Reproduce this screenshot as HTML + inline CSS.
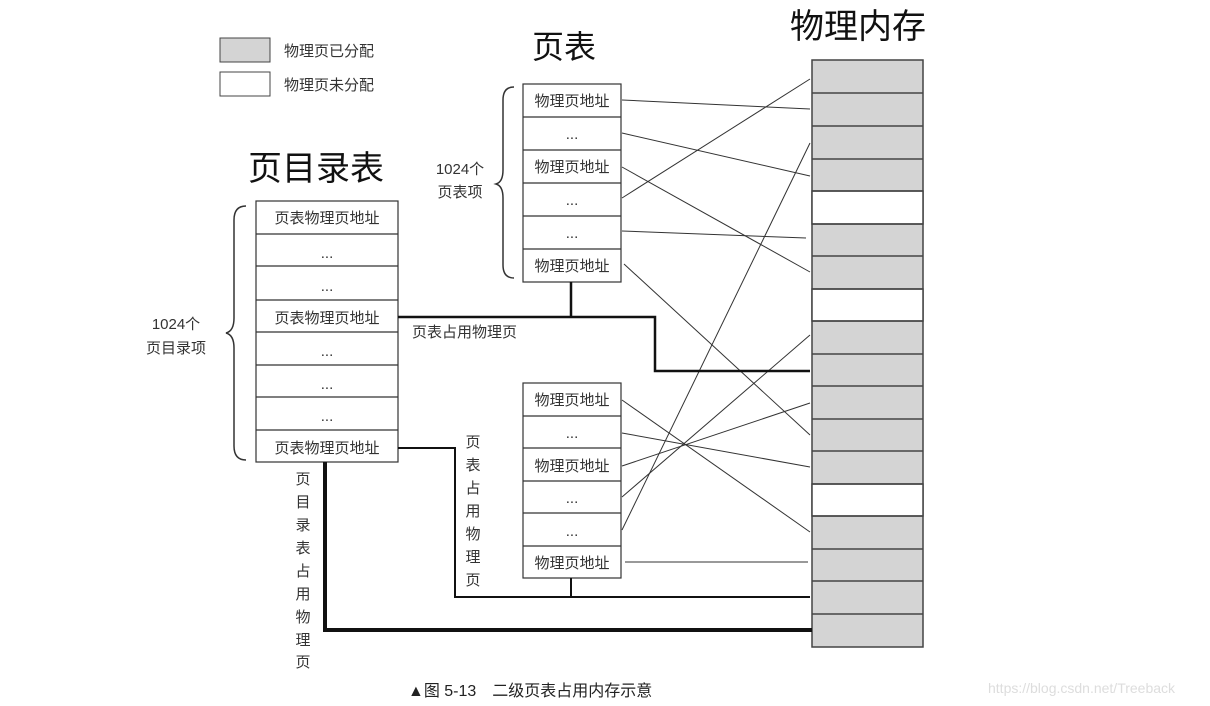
<!DOCTYPE html>
<html><head><meta charset="utf-8"><style>
html,body{margin:0;padding:0;background:#fff;width:1210px;height:706px;overflow:hidden}
svg text{font-family:"Liberation Sans","Noto Sans CJK SC",sans-serif;fill:#333}
</style></head><body>
<svg width="1210" height="706" xmlns="http://www.w3.org/2000/svg">
<!-- legend -->
<rect x="220" y="38" width="50" height="24" fill="#d4d4d4" stroke="#444"/>
<rect x="220" y="72" width="50" height="24" fill="#fff" stroke="#444"/>
<text x="284" y="56" font-size="15">物理页已分配</text>
<text x="284" y="90" font-size="15">物理页未分配</text>
<!-- titles -->
<text x="532" y="58" font-size="32" fill="#111" style="fill:#111">页表</text>
<text x="790" y="38" font-size="34" style="fill:#111">物理内存</text>
<text x="248" y="180" font-size="34" style="fill:#111">页目录表</text>
<!-- physical memory -->
<g stroke="#444" stroke-width="1.5">
<rect x="812" y="60" width="111" height="587" fill="#d4d4d4"/>
<rect x="812" y="191" width="111" height="33" fill="#fff"/>
<rect x="812" y="289" width="111" height="32" fill="#fff"/>
<rect x="812" y="484" width="111" height="32" fill="#fff"/>
<path d="M812 93H923M812 126H923M812 159H923M812 191H923M812 224H923M812 256H923M812 289H923M812 321H923M812 354H923M812 386H923M812 419H923M812 451H923M812 484H923M812 516H923M812 549H923M812 581H923M812 614H923"/>
</g>
<!-- page dir -->
<g stroke="#333" stroke-width="1.2" fill="#fff">
<rect x="256" y="201" width="142" height="261"/>
<path d="M256 234H398M256 266H398M256 300H398M256 332H398M256 365H398M256 397H398M256 430H398"/>
<rect x="523" y="84" width="98" height="198"/>
<path d="M523 117H621M523 150H621M523 183H621M523 216H621M523 249H621"/>
<rect x="523" y="383" width="98" height="195"/>
<path d="M523 416H621M523 448H621M523 481H621M523 513H621M523 546H621"/>
</g>
<g font-size="15">
<text x="327" y="223" text-anchor="middle">页表物理页地址</text>
<text x="327" y="258" text-anchor="middle">...</text>
<text x="327" y="291" text-anchor="middle">...</text>
<text x="327" y="323" text-anchor="middle">页表物理页地址</text>
<text x="327" y="356" text-anchor="middle">...</text>
<text x="327" y="389" text-anchor="middle">...</text>
<text x="327" y="421" text-anchor="middle">...</text>
<text x="327" y="453" text-anchor="middle">页表物理页地址</text>
<text x="572" y="106" text-anchor="middle">物理页地址</text>
<text x="572" y="139" text-anchor="middle">...</text>
<text x="572" y="172" text-anchor="middle">物理页地址</text>
<text x="572" y="205" text-anchor="middle">...</text>
<text x="572" y="238" text-anchor="middle">...</text>
<text x="572" y="271" text-anchor="middle">物理页地址</text>
<text x="572" y="405" text-anchor="middle">物理页地址</text>
<text x="572" y="438" text-anchor="middle">...</text>
<text x="572" y="471" text-anchor="middle">物理页地址</text>
<text x="572" y="503" text-anchor="middle">...</text>
<text x="572" y="536" text-anchor="middle">...</text>
<text x="572" y="568" text-anchor="middle">物理页地址</text>
<text x="176" y="329" text-anchor="middle">1024个</text>
<text x="176" y="353" text-anchor="middle">页目录项</text>
<text x="460" y="174" text-anchor="middle">1024个</text>
<text x="460" y="197" text-anchor="middle">页表项</text>
<text x="412" y="337">页表占用物理页</text>
</g>
<g font-size="15" text-anchor="middle">
<text x="473" y="447">页</text><text x="473" y="470">表</text><text x="473" y="493">占</text><text x="473" y="516">用</text><text x="473" y="539">物</text><text x="473" y="562">理</text><text x="473" y="585">页</text>
<text x="303" y="484">页</text><text x="303" y="507">目</text><text x="303" y="530">录</text><text x="303" y="553">表</text><text x="303" y="576">占</text><text x="303" y="599">用</text><text x="303" y="622">物</text><text x="303" y="645">理</text><text x="303" y="667">页</text>
</g>
<!-- braces -->
<g fill="none" stroke="#333" stroke-width="1.5">
<path d="M246 206Q234 206 234 220V318Q234 331 226 333Q234 335 234 348V446Q234 460 246 460"/>
<path d="M514 87Q503 87 503 100V170Q503 182 496 184Q503 186 503 198V265Q503 278 514 278"/>
</g>
<!-- mapping lines -->
<g stroke="#333" stroke-width="1">
<line x1="622" y1="100" x2="810" y2="109"/>
<line x1="622" y1="133" x2="810" y2="176"/>
<line x1="622" y1="167" x2="810" y2="272"/>
<line x1="622" y1="198" x2="810" y2="79"/>
<line x1="622" y1="231" x2="806" y2="238"/>
<line x1="624" y1="264" x2="810" y2="435"/>
<line x1="622" y1="530" x2="810" y2="143"/>
<line x1="622" y1="497" x2="810" y2="335"/>
<line x1="622" y1="400" x2="810" y2="532"/>
<line x1="622" y1="433" x2="810" y2="467"/>
<line x1="622" y1="466" x2="810" y2="403"/>
<line x1="625" y1="562" x2="808" y2="562"/>
</g>
<!-- thick connectors -->
<g fill="none" stroke="#111">
<path d="M571 282V317M398 317H655V371H810" stroke-width="2.5"/>
<path d="M571 578V597M398 448H455V597H810" stroke-width="2"/>
<path d="M325 462V630H812" stroke-width="4"/>
</g>
<text x="408" y="696" font-size="16" style="fill:#222">▲图 5-13　二级页表占用内存示意</text>
<text x="988" y="693" font-size="14" style="fill:#ddd">https://blog.csdn.net/Treeback</text>
</svg>
</body></html>
